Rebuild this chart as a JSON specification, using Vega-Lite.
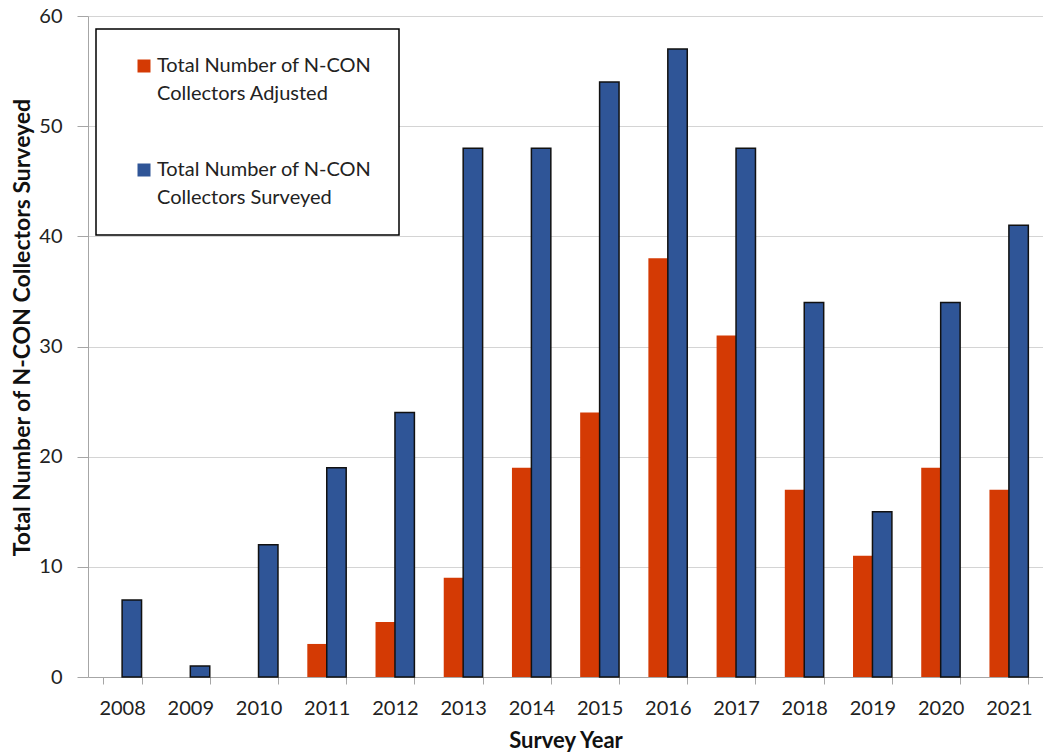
{
  "$schema": "https://vega.github.io/schema/vega-lite/v6.json",
  "autosize": {"type": "none"},
  "padding": {"left": 88, "top": 16, "right": 0, "bottom": 76},
  "width": 955,
  "height": 661,
  "background": "white",
  "config": {
    "font": "Lato",
    "view": {"stroke": null},
    "axis": {
      "labelFont": "Lato",
      "titleFont": "Lato",
      "labelFontSize": 20,
      "labelColor": "#222222",
      "titleFontSize": 22,
      "titleFontWeight": "bold",
      "titleColor": "#111111",
      "domainColor": "#a6a6a6",
      "tickColor": "#a6a6a6",
      "gridColor": "#d4d4d4"
    }
  },
  "data": {
    "values": [
      {"year": "2008", "series": "Total Number of N-CON Collectors Adjusted", "count": 0},
      {"year": "2008", "series": "Total Number of N-CON Collectors Surveyed", "count": 7},
      {"year": "2009", "series": "Total Number of N-CON Collectors Adjusted", "count": 0},
      {"year": "2009", "series": "Total Number of N-CON Collectors Surveyed", "count": 1},
      {"year": "2010", "series": "Total Number of N-CON Collectors Adjusted", "count": 0},
      {"year": "2010", "series": "Total Number of N-CON Collectors Surveyed", "count": 12},
      {"year": "2011", "series": "Total Number of N-CON Collectors Adjusted", "count": 3},
      {"year": "2011", "series": "Total Number of N-CON Collectors Surveyed", "count": 19},
      {"year": "2012", "series": "Total Number of N-CON Collectors Adjusted", "count": 5},
      {"year": "2012", "series": "Total Number of N-CON Collectors Surveyed", "count": 24},
      {"year": "2013", "series": "Total Number of N-CON Collectors Adjusted", "count": 9},
      {"year": "2013", "series": "Total Number of N-CON Collectors Surveyed", "count": 48},
      {"year": "2014", "series": "Total Number of N-CON Collectors Adjusted", "count": 19},
      {"year": "2014", "series": "Total Number of N-CON Collectors Surveyed", "count": 48},
      {"year": "2015", "series": "Total Number of N-CON Collectors Adjusted", "count": 24},
      {"year": "2015", "series": "Total Number of N-CON Collectors Surveyed", "count": 54},
      {"year": "2016", "series": "Total Number of N-CON Collectors Adjusted", "count": 38},
      {"year": "2016", "series": "Total Number of N-CON Collectors Surveyed", "count": 57},
      {"year": "2017", "series": "Total Number of N-CON Collectors Adjusted", "count": 31},
      {"year": "2017", "series": "Total Number of N-CON Collectors Surveyed", "count": 48},
      {"year": "2018", "series": "Total Number of N-CON Collectors Adjusted", "count": 17},
      {"year": "2018", "series": "Total Number of N-CON Collectors Surveyed", "count": 34},
      {"year": "2019", "series": "Total Number of N-CON Collectors Adjusted", "count": 11},
      {"year": "2019", "series": "Total Number of N-CON Collectors Surveyed", "count": 15},
      {"year": "2020", "series": "Total Number of N-CON Collectors Adjusted", "count": 19},
      {"year": "2020", "series": "Total Number of N-CON Collectors Surveyed", "count": 34},
      {"year": "2021", "series": "Total Number of N-CON Collectors Adjusted", "count": 17},
      {"year": "2021", "series": "Total Number of N-CON Collectors Surveyed", "count": 41}
    ]
  },
  "mark": {"type": "bar"},
  "encoding": {
    "x": {
      "field": "year",
      "type": "nominal",
      "scale": {"paddingInner": 0.43, "paddingOuter": 0.215},
      "axis": {
        "title": "Survey Year",
        "labelAngle": 0,
        "tickBand": "extent",
        "tickSize": 7,
        "labelPadding": 14,
        "titlePadding": 12
      }
    },
    "xOffset": {
      "field": "series",
      "type": "nominal",
      "scale": {"paddingInner": 0, "paddingOuter": 0}
    },
    "y": {
      "field": "count",
      "type": "quantitative",
      "scale": {"domain": [0, 60], "nice": false},
      "axis": {
        "title": "Total Number of N-CON Collectors Surveyed",
        "titleFontSize": 23,
        "titleY": 311,
        "values": [0, 10, 20, 30, 40, 50, 60],
        "grid": true,
        "tickSize": 11,
        "labelPadding": 15,
        "titlePadding": 4
      }
    },
    "color": {
      "field": "series",
      "type": "nominal",
      "scale": {
        "domain": ["Total Number of N-CON Collectors Adjusted", "Total Number of N-CON Collectors Surveyed"],
        "range": ["#d43a04", "#2f5597"]
      },
      "legend": {
        "title": null,
        "orient": "none",
        "legendX": 8,
        "legendY": 13,
        "direction": "vertical",
        "padding": 27,
        "strokeColor": "#000000",
        "fillColor": "white",
        "symbolType": "square",
        "symbolSize": 169,
        "symbolOffset": 11,
        "symbolStrokeWidth": 0,
        "labelFont": "Lato",
        "labelFontSize": 20,
        "labelColor": "#222222",
        "labelOffset": 3,
        "labelLimit": 400,
        "rowPadding": 56,
        "labelExpr": "[slice(datum.label, 0, 21), slice(datum.label, 22)]",
        "encode": {
          "labels": {"update": {"lineHeight": {"value": 28}}},
          "legend": {"update": {"strokeWidth": {"value": 1.5}}}
        }
      }
    },
    "stroke": {
      "field": "series",
      "type": "nominal",
      "scale": {
        "domain": ["Total Number of N-CON Collectors Adjusted", "Total Number of N-CON Collectors Surveyed"],
        "range": ["transparent", "#111111"]
      },
      "legend": null
    },
    "strokeWidth": {"value": 1.5}
  }
}
